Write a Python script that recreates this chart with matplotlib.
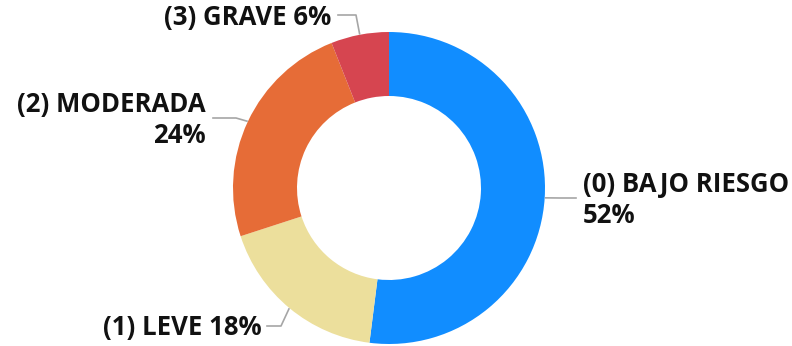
import numpy as np
import matplotlib.pyplot as plt

# Data
categories = ['(0) BAJO RIESGO', '(1) LEVE', '(2) MODERADA', '(3) GRAVE']
percentages = [52, 18, 24, 6]
colors = ['#118DFF', '#ECDF9C', '#E66C37', '#D64550']

W, H = 792, 346
cx, cy = 389, 188          # donut centre in pixel coords (top-left origin)
R, ring = 156, 64

plt.rcParams['font.family'] = ['Open Sans', 'DejaVu Sans']

fig = plt.figure(figsize=(W / 100, H / 100), dpi=100)
ax = fig.add_axes([0, 0, 1, 1])

ax.pie(percentages, colors=colors, startangle=90, counterclock=False,
       radius=R, center=(cx, H - cy),
       wedgeprops=dict(width=ring, edgecolor='none'))
ax.set_xlim(0, W)
ax.set_ylim(0, H)
ax.axis('off')

# label layout: (elbow point, line end, text anchor, ha)
labels = [
    f'{categories[0]}\n{percentages[0]}%',
    f'{categories[1]} {percentages[1]}%',
    f'{categories[2]}\n{percentages[2]}%',
    f'{categories[3]} {percentages[3]}%',
]
layout = [
    ((560, 198), (576, 198), (583, 200), 'left'),
    ((281, 326), (267, 326), (262, 327), 'right'),
    ((236, 118), (213, 118), (206, 120), 'right'),
    ((356, 15), (338, 15), (331, 18), 'right'),
]

# cumulative angles to find the middle of each wedge
start = 90.0
for pct, lab, (elbow, end, anchor, ha) in zip(percentages, labels, layout):
    sweep = pct / sum(percentages) * 360
    mid = np.deg2rad(start - sweep / 2)
    start -= sweep
    px = cx + (R + 1) * np.cos(mid)
    py = cy - (R + 1) * np.sin(mid)
    xs = [px, elbow[0], end[0]]
    ys = [H - py, H - elbow[1], H - end[1]]
    ax.plot(xs, ys, color='#A6A6A6', linewidth=1.2)
    ax.text(anchor[0], H - anchor[1], lab, ha=ha, va='center',
            fontsize=18.5, fontweight='bold', color='#111111',
            linespacing=1.2, multialignment=ha)

fig.savefig('out.png', dpi=100)
